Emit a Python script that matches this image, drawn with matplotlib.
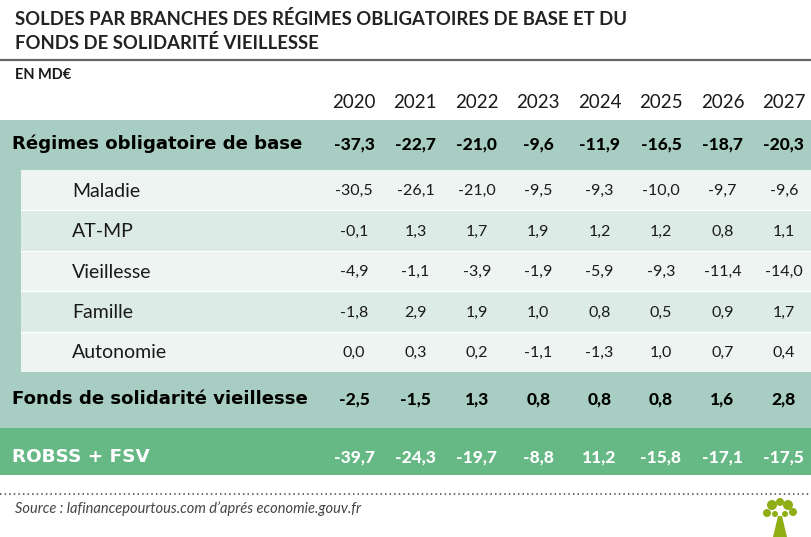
import matplotlib
matplotlib.use("Agg")
import matplotlib.pyplot as plt
from matplotlib.patches import Rectangle, Circle, Polygon

plt.rcParams['font.family'] = ['Lato', 'DejaVu Sans']
BOLD_FONT = ['DejaVu Sans']

# Données (en Md€)
years = ["2020", "2021", "2022", "2023", "2024", "2025", "2026", "2027"]
robss_total = ["-37,3", "-22,7", "-21,0", "-9,6", "-11,9", "-16,5", "-18,7", "-20,3"]
branches = ["Maladie", "AT-MP", "Vieillesse", "Famille", "Autonomie"]
maladie = ["-30,5", "-26,1", "-21,0", "-9,5", "-9,3", "-10,0", "-9,7", "-9,6"]
atmp = ["-0,1", "1,3", "1,7", "1,9", "1,2", "1,2", "0,8", "1,1"]
vieillesse = ["-4,9", "-1,1", "-3,9", "-1,9", "-5,9", "-9,3", "-11,4", "-14,0"]
famille = ["-1,8", "2,9", "1,9", "1,0", "0,8", "0,5", "0,9", "1,7"]
autonomie = ["0,0", "0,3", "0,2", "-1,1", "-1,3", "1,0", "0,7", "0,4"]
fsv = ["-2,5", "-1,5", "1,3", "0,8", "0,8", "0,8", "1,6", "2,8"]
robss_fsv = ["-39,7", "-24,3", "-19,7", "-8,8", "11,2", "-15,8", "-17,1", "-17,5"]
branch_values = [maladie, atmp, vieillesse, famille, autonomie]

W, H = 812, 537
fig = plt.figure(figsize=(W / 100, H / 100), dpi=100)
ax = fig.add_axes([0, 0, 1, 1])
ax.set_xlim(0, W)
ax.set_ylim(H, 0)
ax.axis('off')

DARK = '#a8cdc3'
LIGHT1 = '#eef4f2'
LIGHT2 = '#ddebe6'
GREEN = '#66b885'
TXT = '#1a1a1a'

col_x0, col_step = 354, 61.4
cols = [col_x0 + i * col_step for i in range(len(years))]

# titre
ax.text(15, 19, "SOLDES PAR BRANCHES DES RÉGIMES OBLIGATOIRES DE BASE ET DU",
        fontsize=13.3, fontweight='bold', color='#222222', va='center', ha='left')
ax.text(15, 43, "FONDS DE SOLIDARITÉ VIEILLESSE",
        fontsize=13.3, fontweight='bold', color='#222222', va='center', ha='left')
ax.plot([0, W], [59.5, 59.5], color='#666666', lw=1.6)
ax.text(15, 75, "EN MD€", fontsize=10.5, fontweight='bold', color=TXT, va='center')

# en-têtes années
for x, y in zip(cols, years):
    ax.text(x, 103, y, fontsize=13.5, color=TXT, ha='center', va='center')

# bandeau foncé
ax.add_patch(Rectangle((0, 120), W, 308, color=DARK, lw=0))
row_top, row_h = 170, 40.4
for i, name in enumerate(branches):
    y0 = row_top + i * row_h
    ax.add_patch(Rectangle((21, y0), W - 21, row_h,
                           color=LIGHT1 if i % 2 == 0 else LIGHT2, lw=0))
    if i > 0:
        ax.plot([21, W], [y0, y0], color='#ffffff', lw=0.8)
    yc = y0 + row_h / 2 + 1
    ax.text(72, yc, name, fontsize=14, color=TXT, va='center')
    for x, v in zip(cols, branch_values[i]):
        ax.text(x, yc, v, fontsize=11.5, color=TXT, ha='center', va='center')

ax.text(12, 144, "Régimes obligatoire de base", fontsize=13.1, fontweight='bold',
        family=BOLD_FONT, color='#000000', va='center')
for x, v in zip(cols, robss_total):
    ax.text(x, 144, v, fontsize=12.5, fontweight='black', color='#000000',
            ha='center', va='center')

ax.text(12, 399, "Fonds de solidarité vieillesse", fontsize=13.1, fontweight='bold',
        family=BOLD_FONT, color='#000000', va='center')
for x, v in zip(cols, fsv):
    ax.text(x, 399, v, fontsize=12.5, fontweight='black', color='#000000',
            ha='center', va='center')

# ligne totale
ax.add_patch(Rectangle((0, 428), W, 47, color=GREEN, lw=0))
ax.text(12, 457, "ROBSS + FSV", fontsize=13.2, fontweight='bold',
        family=BOLD_FONT, color='white', va='center')
for x, v in zip(cols, robss_fsv):
    ax.text(x, 457, v, fontsize=12.5, fontweight='black', color='white',
            ha='center', va='center')

# pied
ax.plot([0, W], [494, 494], color='#444444', lw=1.1, ls=(0, (1, 2)))
ax.text(15, 509, "Source : lafinancepourtous.com d’aprés economie.gouv.fr",
        fontsize=10.5, style='italic', color='#444444', va='center')

# petit logo arbre
OLIVE = '#8fae16'
ax.add_patch(Polygon([[773, 537], [778, 516], [782, 516], [787, 537]], color=OLIVE, lw=0))
for cx, cy, r in [(767, 513, 4), (772, 505, 5), (780, 502, 4), (788, 505, 5),
                  (793, 512, 4), (775, 514, 3), (785, 514, 3)]:
    ax.add_patch(Circle((cx, cy), r, color=OLIVE, lw=0))

fig.savefig("out.png", dpi=100)
